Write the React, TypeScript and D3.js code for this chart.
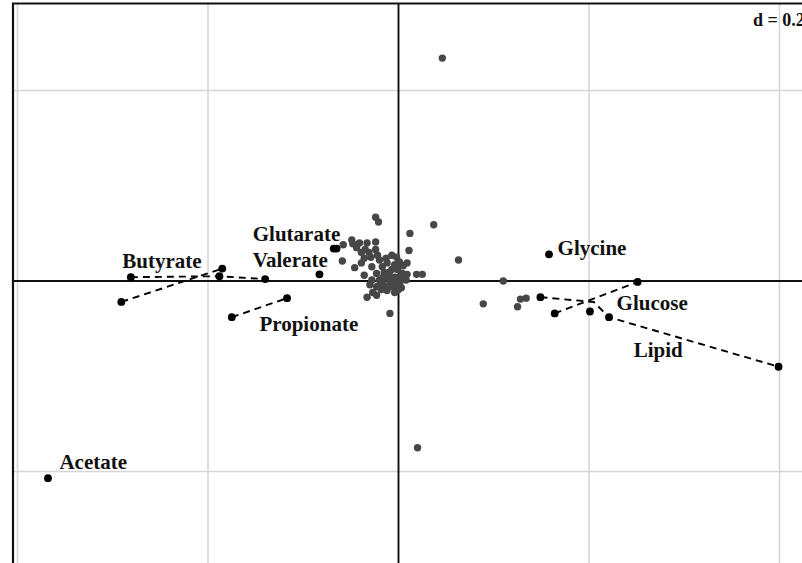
import React from "react";
import * as d3 from "d3";

// Grid (d = 0.2)
const gridX = [-0.4, -0.2, 0.2, 0.4];
const gridY = [-0.2, 0.2];

// Gray row scores
const rowX = [0.046, 0.020, 0.037, 0.063, 0.110, 0.089, 0.125, 0.128, 0.134, 0.012, 0.011, 0.009, 0.019, 0.025, 0.009, -0.009, -0.024, -0.021, -0.058, -0.059, -0.049, -0.048, -0.044, -0.041, -0.039, -0.033, -0.024, -0.024, -0.029, -0.020, -0.013, -0.007, -0.002, 0.001, -0.012, -0.017, -0.046, -0.039, -0.028, -0.023, -0.028, -0.020, -0.013, -0.006, 0.001, 0.008, -0.023, -0.013, -0.006, 0.001, -0.027, -0.023, -0.033, -0.015, -0.007, -0.001, 0.004, -0.017, -0.009, -0.003, 0.003, -0.018, -0.004, -0.036, -0.030, 0.005, -0.004, -0.022, -0.036, -0.010, -0.004, 0.002, -0.016, -0.008, 0.000, -0.012, -0.002, -0.020, -0.010, 0.006, -0.031, -0.035];
const rowY = [0.234, -0.175, 0.059, 0.022, 0.000, -0.024, -0.027, -0.019, -0.018, 0.050, 0.032, 0.019, 0.007, 0.007, 0.007, -0.034, 0.067, 0.062, 0.038, 0.021, 0.043, 0.039, 0.035, 0.040, 0.030, 0.040, 0.041, 0.033, 0.025, 0.022, 0.024, 0.027, 0.025, 0.020, 0.019, 0.015, 0.014, 0.019, 0.015, 0.008, 0.001, 0.001, 0.004, 0.003, 0.004, 0.001, -0.006, -0.006, -0.006, -0.004, -0.012, -0.015, -0.017, 0.009, 0.012, 0.012, 0.008, -0.002, -0.001, -0.002, -0.007, -0.009, -0.012, 0.006, -0.004, 0.016, 0.017, 0.027, 0.024, 0.006, 0.004, 0.000, 0.004, -0.003, -0.009, -0.010, -0.004, -0.005, 0.009, 0.003, 0.030, 0.033];

// Black variable points
const varX = [-0.368, -0.281, -0.140, -0.188, -0.291, -0.185, -0.175, -0.117, -0.083, -0.068, -0.065, 0.158, 0.164, 0.251, 0.149, 0.221, 0.399, 0.201];
const varY = [-0.207, 0.004, 0.002, 0.005, -0.022, 0.013, -0.038, -0.018, 0.007, 0.034, 0.034, 0.028, -0.034, -0.001, -0.017, -0.038, -0.090, -0.032];

// Dashed links (polylines)
const links: [number, number][][] = [
  [[-0.281, 0.004], [-0.188, 0.005], [-0.140, 0.002]],
  [[-0.291, -0.022], [-0.185, 0.013]],
  [[-0.175, -0.038], [-0.117, -0.018]],
  [[0.164, -0.034], [0.251, -0.001]],
  [[0.149, -0.017], [0.205, -0.022], [0.221, -0.038], [0.399, -0.090]],
];

// Labels
const labels = ["Acetate", "Butyrate", "Glutarate", "Valerate", "Propionate", "Glycine", "Glucose", "Lipid"];
const labelX = [-0.356, -0.290, -0.153, -0.153, -0.146, 0.167, 0.229, 0.247];
const labelY = [-0.197, 0.014, 0.042, 0.015, -0.0525, 0.027, -0.030, -0.080];

export default function App() {
  const W = 802, H = 563;
  const x = d3.scaleLinear().domain([-0.4, 0.4]).range([17.5, 779.5]);
  const y = d3.scaleLinear().domain([-0.2, 0.2]).range([471.5, 90.5]);
  const left = 13, top = 3.5;
  const line = d3.line<[number, number]>().x(d => x(d[0])).y(d => y(d[1]));
  const font = "'Liberation Serif', 'Times New Roman', serif";
  return (
    <svg width={W} height={H} style={{ position: "absolute", left: 0, top: 0, background: "#fff" }}>
      <rect x={0} y={0} width={W} height={H} fill="#fff" />
      {gridX.map(v => (
        <line key={"gx" + v} x1={x(v)} x2={x(v)} y1={top} y2={H + 10} stroke="#d6d6d6" strokeWidth={1.6} />
      ))}
      {gridY.map(v => (
        <line key={"gy" + v} x1={left} x2={W + 10} y1={y(v)} y2={y(v)} stroke="#d6d6d6" strokeWidth={1.6} />
      ))}
      <text x={753} y={26} fontFamily={font} fontWeight="bold" fontSize={18} fill="#111">d = 0.2</text>
      <line x1={x(0)} x2={x(0)} y1={top} y2={H + 10} stroke="#111" strokeWidth={1.9} />
      <line x1={left} x2={W + 10} y1={y(0)} y2={y(0)} stroke="#111" strokeWidth={1.9} />
      {rowX.map((v, i) => (
        <circle key={"r" + i} cx={x(v)} cy={y(rowY[i])} r={3.7} fill="#474747" />
      ))}
      {links.map((pts, i) => (
        <path key={"l" + i} d={line(pts) || ""} fill="none" stroke="#000" strokeWidth={1.9} strokeDasharray="7,5" />
      ))}
      {varX.map((v, i) => (
        <circle key={"v" + i} cx={x(v)} cy={y(varY[i])} r={3.9} fill="#000" />
      ))}
      {labels.map((t, i) => (
        <text key={t} x={x(labelX[i])} y={y(labelY[i])} fontFamily={font} fontWeight="bold" fontSize={21} fill="#111">{t}</text>
      ))}
      <path d={`M${left},${H + 10} L${left},${top} L${W + 10},${top}`} fill="none" stroke="#111" strokeWidth={2.2} />
    </svg>
  );
}
